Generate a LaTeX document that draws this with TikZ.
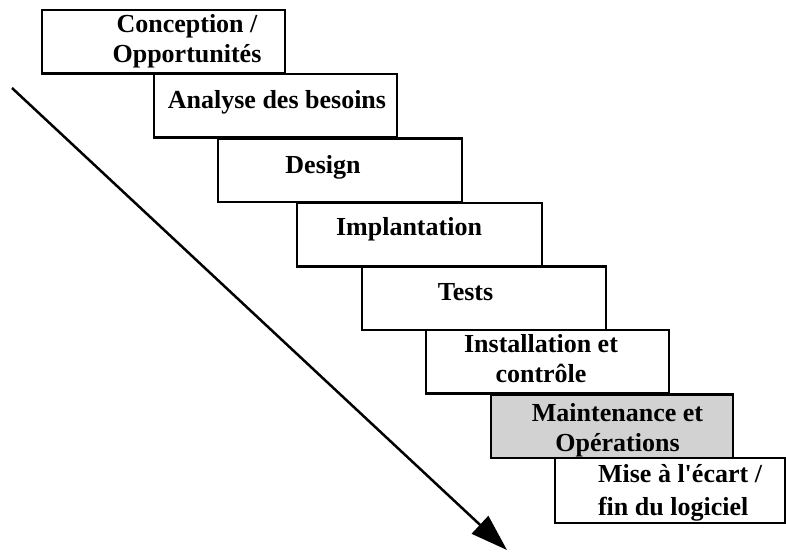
\documentclass[tikz,border=0pt]{standalone}
\usepackage{fontspec}
\setmainfont{Liberation Serif}
\usetikzlibrary{positioning, arrows.meta}
\tikzset{
  stage/.style={
    draw,
    rectangle,
    line width=2.5pt,
    inner sep=0pt,
    outer sep=0pt,
    minimum width=243pt,
    minimum height=63.5pt,
    fill=white
  },
  stagetext/.style={
    inner sep=0pt,
    align=center,
    font=\fontsize{26}{30}\selectfont\bfseries
  },
  flow/.style={
    line width=2.5pt,
    -{Triangle[length=37pt, width=24pt]}
  }
}

\begin{document}
\begin{tikzpicture}[x=1pt, y=-1pt]
        \useasboundingbox (0,0) rectangle (786,552);

        \node[stage] (concept) at (163.5,41.5) {};
        \node[stagetext, below=5pt of concept.north, xshift=23.5pt] (concept-txt) {Conception /\\Opportunités};

        \node[stage] (analyse) at (275.5,105.5) {};
        \node[stagetext, below=17pt of analyse.north, xshift=1.5pt] (analyse-txt) {Analyse des besoins};

        \node[stage, minimum width=244pt] (design) at (340,170) {};
        \node[stagetext, below=17pt of design.north, xshift=-17pt] (design-txt) {Design};

        \node[stage, minimum width=245pt] (implant) at (419.5,234.5) {};
        \node[stagetext, below=15pt of implant.north, xshift=-10.5pt] (implant-txt) {Implantation};

        \node[stage, minimum width=244pt] (tests) at (484,298) {};
        \node[stagetext, below=17pt of tests.north, xshift=-18.5pt] (tests-txt) {Tests};

        \node[stage] (install) at (547.5,361.5) {};
        \node[stagetext, below=5pt of install.north, xshift=-6.5pt] (install-txt) {Installation et\\contrôle};

        \node[stage, minimum width=242pt, fill=gray!35] (maint) at (612,426) {};
        \node[stagetext, below=9pt of maint.north, xshift=5.5pt] (maint-txt) {Maintenance et\\Opérations};

        \node[stage, minimum width=230pt, minimum height=65pt] (retire) at (670,490.5) {};
        \node[stagetext, below=6pt of retire.north, xshift=10pt, align=left, font=\fontsize{26}{33}\selectfont\bfseries] (retire-txt) {Mise à l\textquotesingle écart /\\fin du logiciel};

        % direction du temps
        \coordinate (start) at (12,88);
        \coordinate (end) at (507,550);
        \draw[flow] (start) -- (end);
      \end{tikzpicture}
\end{document}
